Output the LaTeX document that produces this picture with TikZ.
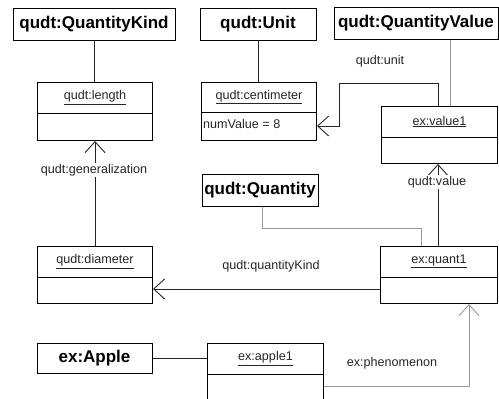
\documentclass[tikz,border=0pt]{standalone}
\usepackage{fontspec}
\setmainfont{Liberation Sans}
\usetikzlibrary{arrows.meta,calc}
\tikzset{
  cls/.style={draw, line width=1pt, font=\bfseries\fontsize{17}{20}\selectfont, inner sep=0pt, minimum height=32pt},
  obj/.style={draw, line width=1pt, inner sep=0pt, anchor=north west},
  lbl/.style={font=\fontsize{12.6}{14}\selectfont, inner sep=1pt, text=black!85},
  conn/.style={line width=0.9pt, draw=black!85},
  grayconn/.style={line width=0.9pt, draw=black!40},
  arr/.style={-{Straight Barb[length=11pt,width=20pt,line width=0.9pt]}},
}
\newcommand{\divider}[2]{\draw[line width=1pt] ($(#1.north west)+(0,#2)$) -- ($(#1.north east)+(0,#2)$);}
\begin{document}
\begin{tikzpicture}[x=1pt,y=-1pt]
\useasboundingbox (0,0) rectangle (499,399);
\clip (0,0) rectangle (499,399);
% class boxes
\node[cls, minimum width=162pt] (QK) at (94,24) {qudt:QuantityKind};
\node[cls, minimum width=116pt] (Unit) at (258,24) {qudt:Unit};
\node[cls, minimum width=164pt] (QV) at (416,23) {qudt:QuantityValue};
\node[cls, minimum width=116pt] (Quantity) at (260,190) {qudt:Quantity};
\node[cls, minimum width=115pt, minimum height=30pt] (Apple) at (94.5,358) {ex:Apple};
% object boxes
\node[obj, minimum width=115pt, minimum height=58pt] (length) at (37,82) {};
\divider{length}{31}
\node[lbl] (lengthT) at ($(length.north)+(0,15.5)$) {\underline{qudt:length}};
\node[obj, minimum width=115pt, minimum height=58pt] (centimeter) at (201,82) {};
\divider{centimeter}{30}
\node[lbl] (centimeterT) at ($(centimeter.north)+(0,15)$) {\underline{qudt:centimeter}};
\node[lbl, anchor=west] (numValue) at ($(centimeter.north west)+(1,42)$) {numValue = 8};
\node[obj, minimum width=116pt, minimum height=57pt] (value1) at (381,106) {};
\divider{value1}{31}
\node[lbl] (value1T) at ($(value1.north)+(0,15.5)$) {\underline{ex:value1}};
\node[obj, minimum width=115pt, minimum height=57pt] (diameter) at (37,246) {};
\divider{diameter}{31}
\node[lbl] (diameterT) at ($(diameter.north)+(0,15.5)$) {\underline{qudt:diameter}};
\node[obj, minimum width=117pt, minimum height=57pt] (quant1) at (380,246) {};
\divider{quant1}{31}
\node[lbl] (quant1T) at ($(quant1.north)+(0,15.5)$) {\underline{ex:quant1}};
\node[obj, minimum width=116pt, minimum height=70pt] (apple1) at (207,343) {};
\divider{apple1}{31}
\node[lbl] (apple1T) at ($(apple1.north)+(0,15.5)$) {\underline{ex:apple1}};
% helper coordinates
\coordinate (xu) at (438,0);
\coordinate (xqv) at (450,0);
% connectors
\draw[conn] (QK.south) -- (QK.south |- length.north);
\draw[conn] (Unit.south) -- (Unit.south |- centimeter.north);
\draw[grayconn] (QV.south -| xqv) -- (value1.north -| xqv);
\draw[conn, arr] (diameter.north) -- (length.south);
\node[lbl, fill=white] (genL) at (94,170) {qudt:generalization};
\draw[conn, arr] (value1.north -| xu) -- ++(0,-23) -| (339,126) -- (centimeter.east |- 0,126);
\node[lbl] (unitL) at (380,61) {qudt:unit};
\draw[conn, arr] (quant1.north -| xu) -- (value1.south -| xu);
\node[lbl, fill=white] (valueL) at (437,182) {qudt:value};
\draw[grayconn] (Quantity.south -| 262,0) |- (421,228) -- (quant1.north -| 421,0);
\draw[conn, arr] (quant1.west |- 0,289) -- (diameter.east |- 0,289);
\node[lbl] (qkL) at (271,266) {qudt:quantityKind};
\draw[conn] (Apple.east) -- (apple1.west |- Apple.east);
\draw[grayconn, arr] (apple1.east |- 0,386) -| (quant1.south -| 469,0);
\node[lbl] (phenL) at (392,363) {ex:phenomenon};
\end{tikzpicture}
\end{document}
